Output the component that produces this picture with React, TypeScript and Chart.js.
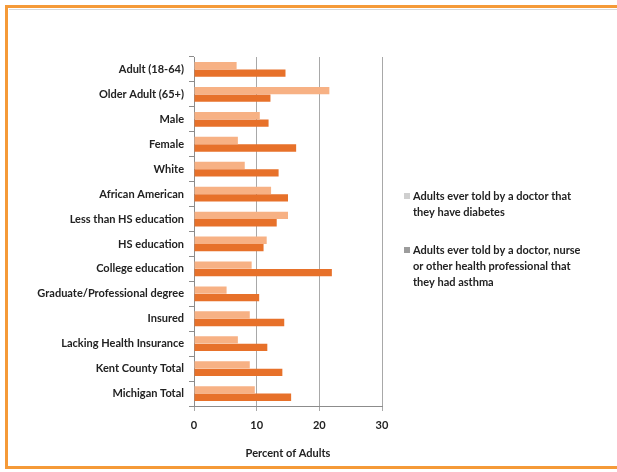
import React, { useEffect, useRef } from "react";
import { Chart, registerables } from "chart.js";

Chart.register(...registerables);

const categories = [
  "Adult (18-64)",
  "Older Adult (65+)",
  "Male",
  "Female",
  "White",
  "African American",
  "Less than HS education",
  "HS education",
  "College education",
  "Graduate/Professional degree",
  "Insured",
  "Lacking Health Insurance",
  "Kent County Total",
  "Michigan Total",
];

const diabetes = [6.8, 21.6, 10.5, 7.0, 8.1, 12.3, 15.0, 11.6, 9.2, 5.2, 8.9, 7.0, 8.9, 9.7];
const asthma = [14.6, 12.2, 11.9, 16.3, 13.5, 15.0, 13.2, 11.1, 22.0, 10.4, 14.4, 11.7, 14.1, 15.5];

const xTicks = [0, 10, 20, 30];
const xTitle = "Percent of Adults";

const legendItems = [
  { lines: ["Adults ever told by a doctor that", "they have diabetes"], color: "#cfcfcf" },
  {
    lines: ["Adults ever told by a doctor, nurse", "or other health professional that", "they had asthma"],
    color: "#9c9c9c",
  },
];

const FONT = "Lato, 'Open Sans', sans-serif";

const legendPlugin = {
  id: "customLegend",
  afterDraw(chart: any) {
    const ctx = chart.ctx;
    ctx.save();
    ctx.font = `bold 11px ${FONT}`;
    ctx.fillStyle = "#222";
    ctx.textBaseline = "middle";
    ctx.textAlign = "left";
    const starts = [196, 250];
    legendItems.forEach((item, i) => {
      const y0 = starts[i];
      ctx.fillStyle = item.color;
      ctx.fillRect(404, y0 - 3, 6, 6);
      ctx.fillStyle = "#222";
      item.lines.forEach((ln, j) => {
        ctx.fillText(ln, 413, y0 + j * 16);
      });
    });
    ctx.restore();
  },
};

export default function App() {
  const ref = useRef<HTMLCanvasElement | null>(null);

  useEffect(() => {
    if (!ref.current) return;
    const chart = new Chart(ref.current, {
      type: "bar",
      data: {
        labels: categories,
        datasets: [
          {
            label: legendItems[0].lines.join(" "),
            data: diabetes,
            backgroundColor: "#f7b184",
            borderWidth: 0,
            barPercentage: 0.98,
            categoryPercentage: 0.6,
          },
          {
            label: legendItems[1].lines.join(" "),
            data: asthma,
            backgroundColor: "#e7712a",
            borderWidth: 0,
            barPercentage: 0.98,
            categoryPercentage: 0.6,
          },
        ],
      },
      options: {
        indexAxis: "y",
        responsive: false,
        animation: false,
        maintainAspectRatio: false,
        layout: { padding: { left: 0, right: 235, top: 57, bottom: 12 } },
        plugins: {
          legend: { display: false },
          tooltip: { enabled: false },
        },
        scales: {
          x: {
            min: 0,
            max: 30,
            afterBuildTicks: (scale: any) => {
              scale.ticks = xTicks.map((v) => ({ value: v }));
            },
            afterFit: (scale: any) => {
              scale.height = 54;
            },
            grid: {
              color: "#a8a8a8",
              lineWidth: 1,
              tickLength: 5,
              drawTicks: true,
            },
            border: { display: true, color: "#8c8c8c" },
            ticks: {
              color: "#222",
              font: { family: FONT, size: 11, weight: "bold" },
              padding: 8,
            },
            title: {
              display: true,
              text: xTitle,
              color: "#222",
              font: { family: FONT, size: 11, weight: "bold" },
              padding: { top: 6, bottom: 0 },
            },
          },
          y: {
            afterFit: (scale: any) => {
              scale.width = 194;
            },
            grid: {
              drawOnChartArea: false,
              tickLength: 5,
              color: "#8c8c8c",
            },
            border: { display: true, color: "#8c8c8c" },
            ticks: {
              color: "#222",
              font: { family: FONT, size: 11, weight: "bold" },
              padding: 5,
              autoSkip: false,
            },
          },
        },
      },
      plugins: [legendPlugin],
    });
    return () => chart.destroy();
  }, []);

  return (
    <div style={{ position: "fixed", left: 0, top: 0, width: 617, height: 472, background: "#fff", overflow: "hidden" }}>
      <canvas ref={ref} width={617} height={472} style={{ position: "absolute", left: 0, top: 0 }} />
      <div
        style={{
          position: "absolute",
          left: 5,
          top: 5,
          width: 640,
          height: 458,
          borderTop: "3px solid #f59a38",
          borderLeft: "3px solid #f59a38",
          borderBottom: "3px solid #f59a38",
          pointerEvents: "none",
        }}
      />
      <div style={{ position: "absolute", left: 9, top: 9, width: 620, height: 1, background: "#d8d8d8" }} />
    </div>
  );
}
